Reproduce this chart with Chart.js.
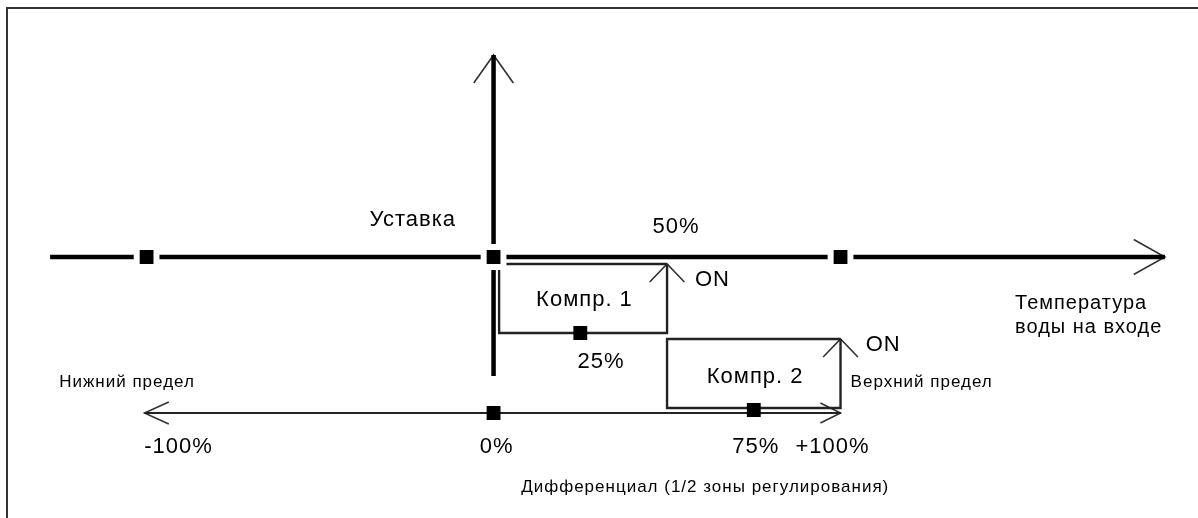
<!DOCTYPE html>
<html lang="ru">
<head>
<meta charset="utf-8">
<title>Уставка / Дифференциал</title>
<script src="https://cdn.jsdelivr.net/npm/chart.js@4.4.1/dist/chart.umd.min.js"></script>
<style>
    html, body { margin: 0; padding: 0; background: #fff; }
    #wrap { width: 1198px; height: 518px; }
</style>
</head>
<body>
<div id="wrap"><canvas id="diagram" width="1198" height="518"></canvas></div>
<script>
// 데이터 (% of differential)
var bottomTicks  = [-100, 0, 75, 100];
var bottomLabels = ['-100%', '0%', '75%', '+100%'];
var setMarks     = [-100, 0, 100];          // squares on the temperature axis
var compNames    = ['Компр. 1', 'Компр. 2'];
var compStart    = [0, 50];
var compStop     = [50, 100];
var compMid      = [25, 75];
var compMidLabel = ['25%', ''];
var halfLabel    = '50%';

// layout levels (y units, temperature axis = 0)
var LV = {
    axisTop: 4.04, axisBottom: -2.38,
    lower: -3.12,
    boxTop: [-0.14, -1.64],
    boxBottom: [-1.52, -3.02],
    xStart: -127.8, xEnd: 193.5
};
var FONT = '"Liberation Sans", Arial, sans-serif';

/**
 * 라인 dataset
 */
function lineSet(points, width, color, order){
    return {
        data: points,
        showLine: true,
        borderColor: color || '#000',
        borderWidth: width,
        pointRadius: 0,
        fill: false,
        tension: 0,
        order: order == null ? 2 : order
    };
}

/**
 * 화살표 (tip + two arms)
 */
function arrowHead(x, y, dx, dy, vertical){
    var pts;
    if(vertical){
        pts = [{x: x - dx, y: y - dy}, {x: x, y: y}, {x: x + dx, y: y - dy}];
    } else {
        pts = [{x: x - dx, y: y + dy}, {x: x, y: y}, {x: x - dx, y: y - dy}];
    }
    return lineSet(pts, 1.6, '#333', 3);
}

var datasets = [];

// squares
datasets.push({
    data: setMarks.map(function(v){ return {x: v, y: 0}; }),
    pointStyle: 'rect', pointRadius: 14,
    backgroundColor: '#000', borderColor: '#fff', borderWidth: 6,
    showLine: false, order: 0
});
var sq = [{x: 0, y: LV.lower}];
for(var i = 0; i < compMid.length; i++){
    sq.push({x: compMid[i], y: LV.boxBottom[i] - (i == 1 ? 0.04 : 0)});
}
datasets.push({
    data: sq,
    pointStyle: 'rect', pointRadius: 9.8,
    backgroundColor: '#000', borderColor: '#000', borderWidth: 0,
    showLine: false, order: 0
});

// axes
datasets.push(lineSet([{x: LV.xStart, y: 0}, {x: LV.xEnd, y: 0}], 4.5));
datasets.push(arrowHead(LV.xEnd, 0, 9, 0.35, false));
datasets.push(lineSet([{x: 0, y: LV.axisBottom}, {x: 0, y: LV.axisTop}], 4.5));
datasets.push(arrowHead(0, LV.axisTop, 5.7, 0.56, true));
datasets.push(lineSet([{x: bottomTicks[0] - 0.6, y: LV.lower}, {x: bottomTicks[bottomTicks.length - 1], y: LV.lower}], 2.2, '#222'));
datasets.push(arrowHead(bottomTicks[0] - 0.6, LV.lower, -7, 0.22, false));
datasets.push(arrowHead(bottomTicks[bottomTicks.length - 1], LV.lower, 5.8, 0.2, false));

// compressor boxes + ON arrows
for(var j = 0; j < compNames.length; j++){
    var x0 = compStart[j] + (j == 0 ? 1.6 : 0);
    var x1 = compStop[j];
    var t = LV.boxTop[j], b = LV.boxBottom[j];
    datasets.push(lineSet([
        {x: x1, y: t}, {x: x0, y: t}, {x: x0, y: b}, {x: x1, y: b}, {x: x1, y: t}
    ], 2.4, '#222'));
    datasets.push(arrowHead(x1, t, 5, 0.36, true));
}

// texts
var notes = [
    {text: 'Уставка', x: -23.3, y: 0.74, size: 22},
    {text: halfLabel, x: compStop[0] + 2.6, y: 0.6, size: 22},
    {text: 'ON', x: compStop[0] + 13.1, y: -0.46, size: 22},
    {text: 'ON', x: compStop[1] + 12.3, y: -1.76, size: 22},
    {text: compNames[0], x: 26.2, y: -0.86, size: 22},
    {text: compNames[1], x: 75.4, y: -2.4, size: 22},
    {text: compMidLabel[0], x: compMid[0] + 6, y: -2.1, size: 22},
    {text: 'Температура', x: 150.3, y: -0.92, size: 20, align: 'left'},
    {text: 'воды на входе', x: 150.3, y: -1.4, size: 20, align: 'left'},
    {text: 'Нижний предел', x: -125.2, y: -2.5, size: 17, align: 'left'},
    {text: 'Верхний предел', x: 102.9, y: -2.5, size: 17, align: 'left'},
    {text: 'Дифференциал (1/2 зоны регулирования)', x: 61, y: -4.6, size: 17}
];
var tickNudge = [32, 3, 2, -8];   // px, keeps the bottom labels apart

var textPlugin = {
    id: 'diagramText',
    beforeDraw: function(chart){
        var ctx = chart.ctx;
        ctx.save();
        ctx.fillStyle = '#fff';
        ctx.fillRect(0, 0, chart.width, chart.height);
        // frame (top + left)
        ctx.strokeStyle = '#333';
        ctx.lineWidth = 2;
        ctx.beginPath();
        ctx.moveTo(7, chart.height);
        ctx.lineTo(7, 8);
        ctx.lineTo(chart.width, 8);
        ctx.stroke();
        ctx.restore();
    },
    afterDatasetsDraw: function(chart){
        var ctx = chart.ctx;
        var xs = chart.scales.x, ys = chart.scales.y;
        ctx.save();
        ctx.fillStyle = '#000';
        ctx.textBaseline = 'middle';
        ctx.letterSpacing = '1px';
        notes.forEach(function(n){
            ctx.font = n.size + 'px ' + FONT;
            ctx.textAlign = n.align || 'center';
            ctx.fillText(n.text, xs.getPixelForValue(n.x), ys.getPixelForValue(n.y));
        });
        ctx.font = '22px ' + FONT;
        ctx.textAlign = 'center';
        for(var k = 0; k < bottomTicks.length; k++){
            ctx.fillText(bottomLabels[k], xs.getPixelForValue(bottomTicks[k]) + tickNudge[k], ys.getPixelForValue(-3.8));
        }
        ctx.restore();
    }
};

new Chart(document.getElementById('diagram').getContext('2d'), {
    type: 'scatter',
    data: {datasets: datasets},
    options: {
        responsive: false,
        animation: false,
        devicePixelRatio: 1,
        layout: {autoPadding: false, padding: {left: 42.5, right: 10.5, top: 7, bottom: 11}},
        plugins: {legend: {display: false}, tooltip: {enabled: false}},
        scales: {
            x: {type: 'linear', min: -130, max: 200, display: false},
            y: {type: 'linear', min: -5, max: 5, display: false}
        },
        elements: {line: {borderCapStyle: 'butt'}}
    },
    plugins: [textPlugin]
});
</script>
</body>
</html>
